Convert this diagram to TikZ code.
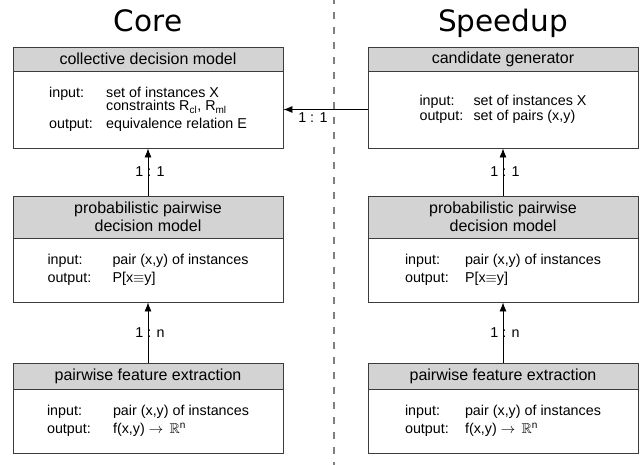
\documentclass[tikz,border=0pt]{standalone}
\usepackage{fontspec}
\setmainfont{Liberation Sans}
\newfontfamily\titlefont{DejaVu Sans}
\usepackage{amssymb}
\usetikzlibrary{arrows.meta}
\definecolor{headgray}{RGB}{211,211,211}
\definecolor{framegray}{RGB}{60,60,60}
\definecolor{divgray}{RGB}{128,128,128}

\begin{document}
\begin{tikzpicture}[
  x=1pt,y=-1pt,
  every node/.style={font=\fontsize{14.3}{17.5}\selectfont},
  head/.style={draw=framegray,line width=0.9pt,fill=headgray,minimum width=270pt,
               inner sep=0pt,align=center,font=\fontsize{16}{18}\selectfont},
  body/.style={draw=framegray,line width=0.9pt,fill=white,minimum width=270pt,
               inner sep=0pt,align=left},
  title/.style={anchor=base,font=\titlefont\fontsize{29.5}{32}\selectfont},
  arr/.style={-{Latex[length=9pt,width=7pt]},line width=0.8pt},
  lbl/.style={inner sep=0pt},
  divider/.style={divgray,line width=2.6pt,dash pattern=on 7pt off 8pt,dash phase=3pt},
]
\useasboundingbox (0,0) rectangle (642,465);

%% ── Divider ──────────────────────────────────────────────────────────────
\coordinate (divTop) at (334,0);
\coordinate (divBot) at (334,465);
\draw[divider] (divTop) -- (divBot);

%% ── Titles ───────────────────────────────────────────────────────────────
\node[title] (coreTitle)    at (148,32) {Core};
\node[title] (speedupTitle) at (503,32) {Speedup};

%% ── Core column ──────────────────────────────────────────────────────────
\node[head,minimum height=24pt] (cdmHead) at (148,59) {collective decision model};
\node[body,minimum height=77pt] (cdmBody) at (148,109.5)
  {\begin{tabular}{@{}p{57pt}@{}l@{}}
   input:  & set of instances X\\[-4pt]
           & constraints R\textsubscript{cl}, R\textsubscript{ml}\\
   output: & equivalence relation E
   \end{tabular}};

\node[head,minimum height=42pt] (ppdHead) at (148,217)
  {probabilistic pairwise\\decision model};
\node[body,minimum height=64pt] (ppdBody) at (148,270)
  {\begin{tabular}{@{}p{65pt}@{}l@{}}
   input:  & pair (x,y) of instances\\
   output: & P[x$\equiv$y]
   \end{tabular}};

\node[head,minimum height=26pt] (pfeHead) at (148,376) {pairwise feature extraction};
\node[body,minimum height=64pt] (pfeBody) at (148,421)
  {\begin{tabular}{@{}p{66pt}@{}l@{}}
   input:  & pair (x,y) of instances\\
   output: & f(x,y) $\rightarrow$ \,$\mathbb{R}$\textsuperscript{n}
   \end{tabular}};

%% ── Speedup column ───────────────────────────────────────────────────────
\node[head,minimum height=24pt] (cgHead) at (503,59) {candidate generator};
\node[body,minimum height=77pt] (cgBody) at (503,109.5)
  {\begin{tabular}{@{}p{54pt}@{}l@{}}
   input:  & set of instances X\\[-2.5pt]
   output: & set of pairs (x,y)
   \end{tabular}};

\node[head,minimum height=42pt] (sppdHead) at (503,217)
  {probabilistic pairwise\\decision model};
\node[body,minimum height=64pt] (sppdBody) at (503,270)
  {\begin{tabular}{@{}p{60pt}@{}l@{}}
   input:  & pair (x,y) of instances\\
   output: & P[x$\equiv$y]
   \end{tabular}};

\node[head,minimum height=26pt] (spfeHead) at (503,376) {pairwise feature extraction};
\node[body,minimum height=64pt] (spfeBody) at (503,421)
  {\begin{tabular}{@{}p{60pt}@{}l@{}}
   input:  & pair (x,y) of instances\\
   output: & f(x,y) $\rightarrow$ \,$\mathbb{R}$\textsuperscript{n}
   \end{tabular}};

%% ── Connections ──────────────────────────────────────────────────────────
\draw[arr] (ppdHead.north)  -- node[lbl,xshift=2pt]{1 : 1} (cdmBody.south);
\draw[arr] (pfeHead.north)  -- node[lbl,xshift=2pt]{1 : n} (ppdBody.south);
\draw[arr] (sppdHead.north) -- node[lbl,xshift=2pt]{1 : 1} (cgBody.south);
\draw[arr] (spfeHead.north) -- node[lbl,xshift=2pt]{1 : n} (sppdBody.south);

%% candidate generator feeds the collective model
\draw[arr] (cgBody.west) -- node[lbl,pos=0.65,below=3pt]{1 : 1} (cdmBody.east);

\end{tikzpicture}
\end{document}
